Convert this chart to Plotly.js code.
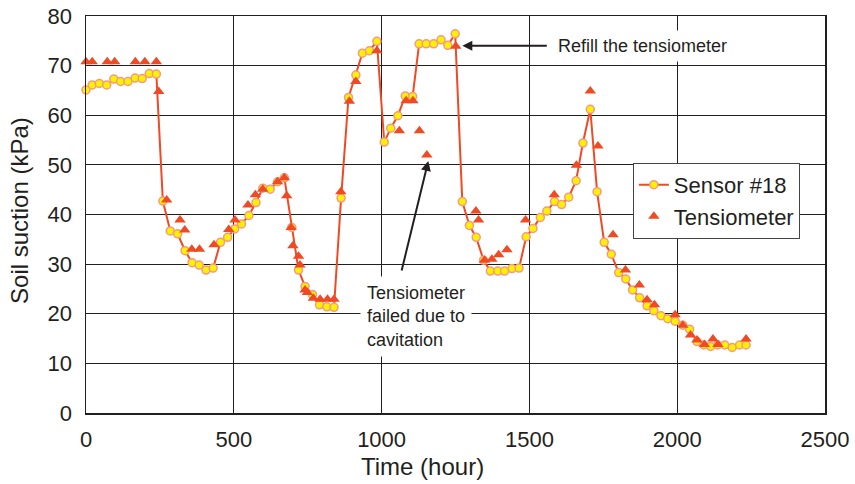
<!DOCTYPE html>
<html>
<head>
<meta charset="utf-8">
<script src="https://cdn.plot.ly/plotly-3.0.1.min.js"></script>
<style>html,body{margin:0;padding:0;background:#fff;}#chart{width:855px;height:484px;}</style>
</head>
<body>
<div id="chart"></div>
<script>
// Sensor #18 readings (hour, kPa)
const sensorHours = [0,21,45,70,94,117,142,166,190,214,238,260,285,310,335,359,383,406,430,455,479,503,526,551,575,598,623,648,671,696,719,741,766,790,815,839,863,888,913,935,959,984,1009,1031,1055,1080,1105,1127,1151,1176,1201,1224,1249,1273,1297,1320,1345,1368,1393,1416,1441,1465,1489,1512,1537,1559,1585,1609,1633,1658,1681,1706,1729,1753,1777,1802,1826,1849,1873,1898,1921,1945,1968,1993,2019,2042,2067,2090,2113,2137,2161,2186,2211,2233];
const sensorSuction = [65.1,66.1,66.4,66.1,67.3,66.8,66.8,67.5,67.4,68.4,68.3,42.7,36.7,36.1,32.7,30.3,29.8,28.8,29.2,34.4,35.4,37.1,38.1,39.8,42.4,45.3,45.1,46.6,47.4,37.4,28.8,25.5,23.9,21.8,21.4,21.3,43.3,63.6,68.1,72.5,73.0,74.9,54.6,57.4,59.9,63.9,63.8,74.4,74.4,74.4,75.2,74.1,76.4,42.6,37.8,35.4,30.8,28.6,28.6,28.6,29.1,29.2,35.5,37.2,39.4,40.7,42.6,42.0,43.5,46.8,54.4,61.2,44.6,34.4,32.0,28.3,27.0,24.8,23.2,21.6,20.6,19.6,19.0,18.5,17.7,16.9,14.4,13.7,13.4,13.7,13.7,13.2,13.7,13.7];

// Tensiometer readings (hour, kPa)
const tensioHours = [0,21,72,97,167,199,238,246,273,318,334,358,384,433,483,504,548,573,598,648,671,679,694,700,719,724,741,749,769,792,817,839,862,891,913,984,1060,1083,1106,1128,1153,1251,1319,1328,1348,1373,1396,1424,1487,1584,1659,1706,1732,1783,1825,1872,1898,1923,1993,2019,2045,2067,2092,2121,2138,2233];
const tensioSuction = [70.8,70.8,70.8,70.8,70.8,70.8,70.8,64.8,42.9,38.9,36.9,33.0,33.0,33.9,37.0,38.9,41.9,44.0,45.1,46.6,47.4,43.8,37.4,33.7,31.6,29.8,24.8,24.3,23.1,22.9,22.9,22.9,44.6,62.8,66.8,73.0,56.9,62.9,62.9,56.9,52.0,73.9,40.7,38.9,30.8,31.0,31.9,32.9,38.9,44.0,49.9,64.9,53.8,35.9,28.8,25.8,22.8,21.8,19.8,17.7,15.7,14.7,13.8,14.9,13.8,14.9];

const xTicks = [0,500,1000,1500,2000,2500];
const yTicks = [0,10,20,30,40,50,60,70,80];
const seriesNames = ["Sensor #18","Tensiometer"];

const FONT = "Liberation Sans, Arial, Helvetica, sans-serif";
const INK = "#231f20";
const RED = "#ef4a23";

const traces = [
  {
    x: sensorHours, y: sensorSuction, name: seriesNames[0],
    type: "scatter", mode: "lines+markers", cliponaxis: false,
    line: {color: RED, width: 2},
    marker: {symbol: "circle", size: 8, color: "#fff200", line: {color: "#f59a82", width: 1.5}}
  },
  {
    x: tensioHours, y: tensioSuction, name: seriesNames[1],
    type: "scatter", mode: "markers", cliponaxis: false,
    marker: {symbol: "triangle-up", size: 10, color: RED, line: {width: 0}}
  }
];

const axisCommon = {
  showgrid: true, gridcolor: INK, gridwidth: 1,
  showline: true, linecolor: INK, linewidth: 1.5, mirror: true,
  zeroline: false, ticks: "",
  tickfont: {family: FONT, size: 22, color: INK}
};

const layout = {
  width: 855, height: 484,
  margin: {l: 86, r: 30, t: 16, b: 71},
  paper_bgcolor: "#fff", plot_bgcolor: "#fff",
  font: {family: FONT, color: INK},
  showlegend: true,
  legend: {
    x: 0.740, y: 0.630, xanchor: "left", yanchor: "top",
    bgcolor: "#fff", bordercolor: "#444", borderwidth: 1,
    font: {family: FONT, size: 22, color: INK}
  },
  xaxis: Object.assign({}, axisCommon, {
    range: [0, 2500], tickmode: "array", tickvals: xTicks, ticktext: xTicks.map(String),
    ticklabelstandoff: 6
  }),
  yaxis: Object.assign({}, axisCommon, {
    range: [0, 80], tickmode: "array", tickvals: yTicks, ticktext: yTicks.map(String),
    ticklabelstandoff: 8
  }),
  annotations: [
    {xref: "paper", yref: "paper", x: 0.4547, y: 0, yshift: -53, xanchor: "center", yanchor: "middle",
     text: "Time (hour)", showarrow: false, font: {family: FONT, size: 24, color: INK}},
    {xref: "paper", yref: "paper", x: 0, xshift: -66, y: 0.509, xanchor: "center", yanchor: "middle",
     textangle: -90, text: "Soil suction (kPa)", showarrow: false, font: {family: FONT, size: 24, color: INK}},
    {xref: "x", yref: "y", x: 1273, y: 74.0, ax: 86, ay: 0, text: "", showarrow: true,
     arrowhead: 2, arrowsize: 1, arrowwidth: 2, arrowcolor: INK},
    {xref: "x", yref: "y", x: 1578, y: 74.0, xanchor: "left", yanchor: "middle", text: "Refill the tensiometer",
     showarrow: false, bgcolor: "#fff", borderpad: 5, font: {family: FONT, size: 18, color: INK}},
    {xref: "x", yref: "y", x: 1158, y: 50.8, ax: -27, ay: 111, text: "", showarrow: true,
     arrowhead: 2, arrowsize: 1, arrowwidth: 2, arrowcolor: INK},
    {xref: "x", yref: "y", x: 928, y: 19.4, xanchor: "left", yanchor: "middle", align: "left",
     text: "Tensiometer<br>failed due to<br>cavitation",
     showarrow: false, bgcolor: "#fff", borderpad: 6, font: {family: FONT, size: 18, color: INK}}
  ]
};

Plotly.newPlot("chart", traces, layout, {displayModeBar: false, staticPlot: true});
</script>
</body>
</html>
